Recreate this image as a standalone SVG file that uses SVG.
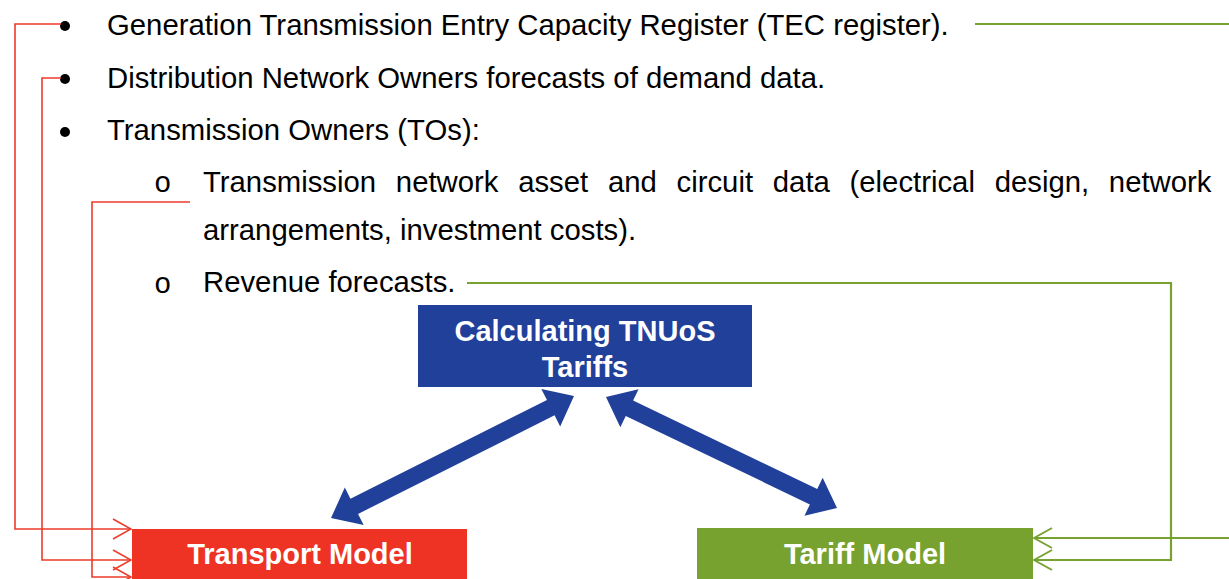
<svg xmlns="http://www.w3.org/2000/svg" width="1229" height="579" viewBox="0 0 1229 579">
<style>
.t{font-family:"Liberation Sans",Arial,sans-serif;font-size:29.3px;fill:#000}
.b{font-family:"Liberation Sans",Arial,sans-serif;font-size:29px;font-weight:bold;fill:#fff;text-anchor:middle}
.o{font-family:"Liberation Mono","Courier New",monospace;font-size:29px;fill:#000}
.red{fill:none;stroke:#EE3B2A;stroke-width:1.6}
.grn{fill:none;stroke:#77A22F;stroke-width:2.2}
</style>
<defs>
<marker id="ar" viewBox="0 0 20 24" refX="19" refY="12" markerWidth="20" markerHeight="24" markerUnits="userSpaceOnUse" orient="auto">
<path d="M1,2 L19,12 L1,22" fill="none" stroke="#EE3B2A" stroke-width="1.6"/>
</marker>
<marker id="ag" viewBox="0 0 20 24" refX="19" refY="12" markerWidth="20" markerHeight="24" markerUnits="userSpaceOnUse" orient="auto">
<path d="M1,2 L19,12 L1,22" fill="none" stroke="#77A22F" stroke-width="2"/>
</marker>
</defs>
<rect width="1229" height="579" fill="#fff"/>
<g id="text-list">
<circle cx="65" cy="26" r="5"/>
<text class="t" x="107" y="35">Generation Transmission Entry Capacity Register (TEC register).</text>
<circle cx="65" cy="79" r="5"/>
<text class="t" x="107" y="88">Distribution Network Owners forecasts of demand data.</text>
<circle cx="65" cy="132" r="5"/>
<text class="t" x="107" y="140">Transmission Owners (TOs):</text>
<text class="o" x="154" y="192">o</text>
<text class="t" x="203" y="192" word-spacing="11.6">Transmission network asset and circuit data (electrical design, network</text>
<text class="t" x="203" y="240">arrangements, investment costs).</text>
<text class="o" x="154" y="293">o</text>
<text class="t" x="203" y="292">Revenue forecasts.</text>
</g>
<g id="node-tnuos">
<rect x="418" y="305" width="334" height="82" fill="#21409A"/>
<text class="b" x="585" y="341">Calculating TNUoS</text>
<text class="b" x="585" y="377">Tariffs</text>
</g>
<g id="node-transport">
<rect x="132" y="529" width="335" height="52" fill="#EE3224"/>
<text class="b" x="300" y="564">Transport Model</text>
</g>
<g id="node-tariff">
<rect x="697" y="528" width="336" height="53" fill="#77A22F"/>
<text class="b" x="865" y="564">Tariff Model</text>
</g>
<g id="connectors">
<polygon fill="#21409A" points="331,518 344.82,487.56 350.43,498.73 546.95,400.07 541.34,388.90 574,396 560.18,426.44 554.57,415.27 358.05,513.93 363.66,525.10"/>
<polygon fill="#21409A" points="606,397 638.53,389.33 633.11,400.60 817.25,489.08 822.67,477.81 837,508 804.47,515.67 809.89,504.40 625.75,415.92 620.33,427.19"/>
<polyline class="red" points="61,24 15,24 15,529 131,529" marker-end="url(#ar)"/>
<polyline class="red" points="61,78 42,78 42,560 131,560" marker-end="url(#ar)"/>
<polyline class="red" points="190,202 92,202 92,577 131,577" marker-end="url(#ar)"/>
<line class="grn" x1="975" y1="24" x2="1229" y2="24"/>
<polyline class="grn" points="1229,538 1034,538" marker-end="url(#ag)"/>
<polyline class="grn" points="467,283 1171,283 1171,560 1034,560" marker-end="url(#ag)"/>
</g>
</svg>
